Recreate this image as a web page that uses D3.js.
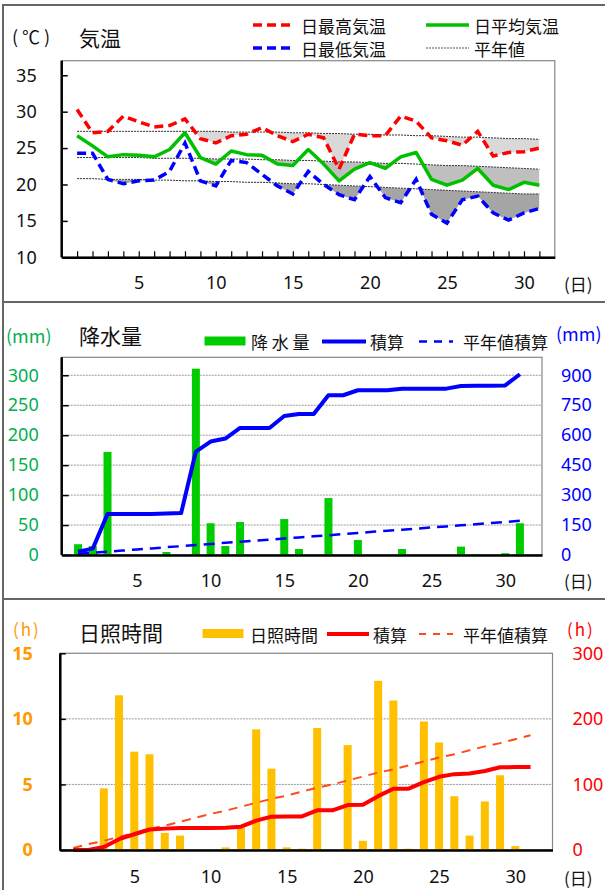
<!DOCTYPE html>
<html>
<head>
<meta charset="utf-8">
<script src="https://cdn.jsdelivr.net/npm/d3@7"></script>
<style>
  body { margin: 0; background: #fff; }
  svg { display: block; font-family: "Noto Sans", "Noto Sans CJK JP", sans-serif; }
  .jp { font-family: "Noto Sans CJK JP", sans-serif; }
</style>
</head>
<body>
<div id="chart"></div>
<script>
// Days of the month
const days = [1,2,3,4,5,6,7,8,9,10,11,12,13,14,15,16,17,18,19,20,21,22,23,24,25,26,27,28,29,30,31];
const dayLabels = [5,10,15,20,25,30];

// Temperature (°C)
const maxTemp  = [30.3,27.1,27.3,29.4,28.6,27.9,28.1,29.0,26.3,25.7,26.7,26.9,27.8,26.7,25.9,26.9,26.4,22.1,26.9,26.7,26.7,29.4,28.7,26.4,26.0,25.4,27.3,23.9,24.4,24.5,25.0];
const meanTemp = [26.7,25.3,23.8,24.1,24.0,23.8,24.8,27.1,23.7,22.8,24.6,24.1,24.0,22.8,22.6,24.8,22.8,20.5,22.1,23.0,22.2,23.8,24.4,20.7,19.9,20.6,22.2,19.9,19.3,20.3,19.9];
const minTemp  = [24.3,24.3,20.7,20.1,20.5,20.6,21.8,25.7,20.5,19.8,23.3,23.0,21.4,19.8,18.7,21.8,20.0,18.6,17.9,21.1,18.2,17.5,20.7,15.9,14.7,17.9,18.4,16.1,15.1,16.1,16.7];
const maxNorm  = [27.3,27.3,27.3,27.3,27.3,27.3,27.3,27.3,27.3,27.3,27.2,27.2,27.2,27.2,27.1,27.1,27.0,27.0,26.9,26.9,26.8,26.8,26.7,26.7,26.6,26.5,26.5,26.4,26.3,26.3,26.2];
const meanNorm = [23.7,23.7,23.7,23.7,23.7,23.6,23.6,23.6,23.6,23.5,23.5,23.5,23.4,23.4,23.3,23.3,23.2,23.1,23.1,23.0,22.9,22.9,22.8,22.7,22.6,22.6,22.5,22.4,22.3,22.2,22.1];
const minNorm  = [20.8,20.8,20.7,20.7,20.7,20.6,20.6,20.5,20.5,20.4,20.4,20.3,20.3,20.2,20.1,20.1,20.0,19.9,19.8,19.7,19.6,19.5,19.4,19.3,19.2,19.1,19.0,18.9,18.8,18.7,18.7];
const tempTicks = [10,15,20,25,30,35];

// Precipitation (mm)
const precip         = [18,15,172,0,0,0,5,0,311,53,15,55,0,0,60,10,0,95,0,25,0,0,10,0,0,0,14,1,0,3,53];
const precipCum      = [17,32,205,205,205,205,208,210,518,568,583,636,636,636,696,706,706,800,800,825,825,825,833,833,833,833,846,847,847,849,905];
const precipNormCum  = [6,11,17,22,28,33,39,44,50,55,61,66,72,77,83,88,94,99,105,110,116,121,127,132,138,143,149,154,160,165,171];
const precipTicks    = [0,50,100,150,200,250,300];
const precipCumTicks = [0,150,300,450,600,750,900];

// Sunshine duration (h)
const sun         = [0,0,4.7,11.8,7.5,7.3,1.3,1.1,0,0,0.2,1.7,9.2,6.2,0.2,0.1,9.3,0,8.0,0.7,12.9,11.4,0.1,9.8,8.2,4.1,1.1,3.7,5.7,0.3,0];
const sunCum      = [0,0,4.7,16.5,24.0,31.3,32.6,33.6,33.6,33.6,33.8,35.5,44.7,50.9,51.1,51.2,60.5,60.5,68.5,69.2,82.1,93.5,93.6,103.4,111.6,115.7,116.8,120.5,126.2,126.5,126.5];
const sunNormCum  = [3,9,14,20,26,32,37,43,49,55,60,66,72,78,83,89,95,100,106,112,118,123,129,135,141,146,152,158,163,169,175];
const sunTicks    = [0,5,10,15];
const sunCumTicks = [0,100,200,300];

const svg = d3.select("#chart").append("svg")
  .attr("width", 605)
  .attr("height", 890);

// Panel frames
[[5, 297], [302, 297], [599, 300]].forEach(([y, h]) => {
  svg.append("rect")
    .attr("x", 3).attr("y", y).attr("width", 640).attr("height", h)
    .attr("fill", "none").attr("stroke", "#666").attr("stroke-width", 2);
});

function label(x, y, txt, opts = {}) {
  return svg.append("text")
    .attr("class", opts.cls || "jp")
    .attr("x", x).attr("y", y)
    .attr("dominant-baseline", "central")
    .attr("text-anchor", opts.anchor || "start")
    .attr("font-size", opts.size || 17)
    .attr("letter-spacing", opts.spacing || null)
    .attr("fill", opts.color || "#111")
    .text(txt);
}

function legendLine(x0, x1, y, color, width, dash) {
  svg.append("line")
    .attr("x1", x0).attr("x2", x1).attr("y1", y).attr("y2", y)
    .attr("stroke", color).attr("stroke-width", width)
    .attr("stroke-dasharray", dash || null);
}

function styleAxis(g, color, size) {
  g.selectAll("text")
    .attr("font-size", size || 18)
    .attr("fill", color)
    .attr("font-family", "Noto Sans, sans-serif");
}

// ---------- Panel 1: temperature ----------
const x1 = d3.scaleLinear().domain([0, 32]).range([61.7, 554.8]);
const y1 = d3.scaleLinear().domain([10, 37]).range([257.3, 60.7]);

svg.append("rect")
  .attr("x", x1(0)).attr("y", y1(37))
  .attr("width", x1(32) - x1(0)).attr("height", y1(10) - y1(37))
  .attr("fill", "none").attr("stroke", "#888").attr("stroke-width", 1.2);

const defs = svg.append("defs");
const shades = [
  { obs: maxTemp,  norm: maxNorm,  fill: "#d9d9d9", id: "clipMax" },
  { obs: meanTemp, norm: meanNorm, fill: "#bfbfbf", id: "clipMean" },
  { obs: minTemp,  norm: minNorm,  fill: "#a5a5a5", id: "clipMin" }
];

shades.forEach(s => {
  // area below the normal line, keeps only the below-normal part
  const below = d3.area()
    .x((d, i) => x1(days[i]))
    .y0(y1(10))
    .y1(d => y1(d));
  defs.append("clipPath").attr("id", s.id)
    .append("path").attr("d", below(s.norm));

  const band = d3.area()
    .x((d, i) => x1(days[i]))
    .y0((d, i) => y1(s.norm[i]))
    .y1(d => y1(d));
  svg.append("path")
    .attr("d", band(s.obs))
    .attr("fill", s.fill)
    .attr("clip-path", `url(#${s.id})`);
});

const tLine = d3.line().x((d, i) => x1(days[i])).y(d => y1(d));

[maxNorm, meanNorm, minNorm].forEach(n => {
  svg.append("path").attr("d", tLine(n))
    .attr("fill", "none").attr("stroke", "#333")
    .attr("stroke-width", 1).attr("stroke-dasharray", "2,1");
});

svg.append("path").attr("d", tLine(meanTemp))
  .attr("fill", "none").attr("stroke", "#00c000").attr("stroke-width", 3.5)
  .attr("stroke-linejoin", "round");
svg.append("path").attr("d", tLine(maxTemp))
  .attr("fill", "none").attr("stroke", "#ff0000").attr("stroke-width", 3.5)
  .attr("stroke-dasharray", "9,5");
svg.append("path").attr("d", tLine(minTemp))
  .attr("fill", "none").attr("stroke", "#0000ff").attr("stroke-width", 3.5)
  .attr("stroke-dasharray", "9,5");

const ax1y = svg.append("g")
  .attr("transform", `translate(${x1(0)},0)`)
  .call(d3.axisLeft(y1).tickValues(tempTicks).tickSize(-6).tickSizeOuter(0).tickPadding(25));
ax1y.select(".domain").attr("stroke", "#000").attr("stroke-width", 2.5)
  .attr("d", `M0,${y1(10)}V${y1(37)}`);
ax1y.selectAll(".tick line").attr("stroke", "#000").attr("stroke-width", 1.5);
styleAxis(ax1y, "#111");

const ax1x = svg.append("g")
  .attr("transform", `translate(0,${y1(10)})`)
  .call(d3.axisBottom(x1).tickValues(days)
    .tickFormat(d => dayLabels.includes(d) ? d : "")
    .tickSize(-6).tickSizeOuter(0).tickPadding(19));
ax1x.select(".domain").attr("stroke", "#000").attr("stroke-width", 2.5);
ax1x.selectAll(".tick line").attr("stroke", "#000").attr("stroke-width", 1.2);
styleAxis(ax1x, "#111");

label(12, 36, "(℃)", { size: 18, spacing: 4 });
label(79, 37, "気温", { size: 21 });
label(564, 283, "(日)", { size: 17 });

legendLine(253, 295, 25, "#ff0000", 3.5, "9,5");
label(301, 25, "日最高気温");
legendLine(426, 469, 25, "#00c000", 3.5);
label(474, 25, "日平均気温");
legendLine(253, 295, 48, "#0000ff", 3.5, "9,5");
label(301, 48, "日最低気温");
legendLine(426, 469, 48, "#555", 1, "2,1");
label(474, 48, "平年値");

// ---------- Panel 2: precipitation ----------
const x2 = d3.scaleLinear().domain([-0.11, 32.5]).range([61.7, 542]);
const y2 = d3.scaleLinear().domain([0, 330]).range([555, 357.3]);
const y2r = d3.scaleLinear().domain([0, 990]).range([555, 357.3]);

svg.append("rect")
  .attr("x", x2.range()[0]).attr("y", y2(330))
  .attr("width", x2.range()[1] - x2.range()[0]).attr("height", y2(0) - y2(330))
  .attr("fill", "none").attr("stroke", "#888").attr("stroke-width", 1.2);

svg.append("g").selectAll("line")
  .data(precipTicks.filter(d => d > 0))
  .join("line")
  .attr("x1", x2.range()[0]).attr("x2", x2.range()[1])
  .attr("y1", d => y2(d)).attr("y2", d => y2(d))
  .attr("stroke", "#999").attr("stroke-width", 1).attr("stroke-dasharray", "2,1");

svg.append("g").selectAll("rect")
  .data(precip)
  .join("rect")
  .attr("x", (d, i) => x2(days[i]) - 4)
  .attr("width", 8)
  .attr("y", d => y2(d))
  .attr("height", d => y2(0) - y2(d))
  .attr("fill", "#00cc00");

const pLine = d3.line().x((d, i) => x2(days[i])).y(d => y2r(d));
svg.append("path").attr("d", pLine(precipNormCum))
  .attr("fill", "none").attr("stroke", "#0000ff").attr("stroke-width", 2.5)
  .attr("stroke-dasharray", "11,7");
svg.append("path").attr("d", pLine(precipCum))
  .attr("fill", "none").attr("stroke", "#0000ff").attr("stroke-width", 4)
  .attr("stroke-linejoin", "round");

const ax2y = svg.append("g")
  .attr("transform", `translate(${x2.range()[0]},0)`)
  .call(d3.axisLeft(y2).tickValues(precipTicks).tickSize(-7).tickSizeOuter(0).tickPadding(23));
ax2y.select(".domain").attr("stroke", "#000").attr("stroke-width", 2.5)
  .attr("d", `M0,${y2(0)}V${y2(330)}`);
ax2y.selectAll(".tick line").attr("stroke", "#000").attr("stroke-width", 1.5);
styleAxis(ax2y, "#00b050");

const ax2r = svg.append("g")
  .attr("transform", `translate(${x2.range()[1]},0)`)
  .call(d3.axisRight(y2r).tickValues(precipCumTicks).tickSize(0).tickPadding(19));
ax2r.select(".domain").remove();
styleAxis(ax2r, "#0000ff");

const ax2x = svg.append("g")
  .attr("transform", `translate(0,${y2(0)})`)
  .call(d3.axisBottom(x2).tickValues(dayLabels).tickSize(0).tickPadding(19));
ax2x.select(".domain").attr("stroke", "#000").attr("stroke-width", 2.5);
styleAxis(ax2x, "#111");

label(6, 335, "(mm)", { size: 18, color: "#00b050", cls: "" });
label(79, 335, "降水量", { size: 21 });
label(556, 333, "(mm)", { size: 18, color: "#0000ff", cls: "" });
label(564, 580, "(日)", { size: 17 });

svg.append("rect").attr("x", 204.5).attr("y", 336.5).attr("width", 41).attr("height", 9).attr("fill", "#00cc00");
label(251, 341, "降 水 量");
legendLine(322, 366, 341.5, "#0000ff", 4);
label(370, 341, "積算");
legendLine(419, 453, 341.5, "#0000ff", 2.5, "8,7");
label(463, 341, "平年値積算");

// ---------- Panel 3: sunshine ----------
const x3 = d3.scaleLinear().domain([0.114, 32.44]).range([59.8, 552.5]);
const y3 = d3.scaleLinear().domain([0, 15]).range([850, 653.3]);
const y3r = d3.scaleLinear().domain([0, 300]).range([850, 653.3]);

svg.append("rect")
  .attr("x", x3.range()[0]).attr("y", y3(15))
  .attr("width", x3.range()[1] - x3.range()[0]).attr("height", y3(0) - y3(15))
  .attr("fill", "none").attr("stroke", "#888").attr("stroke-width", 1.2);

svg.append("g").selectAll("line")
  .data(sunTicks.filter(d => d > 0))
  .join("line")
  .attr("x1", x3.range()[0]).attr("x2", x3.range()[1])
  .attr("y1", d => y3(d)).attr("y2", d => y3(d))
  .attr("stroke", "#999").attr("stroke-width", 1).attr("stroke-dasharray", "2,1");

svg.append("g").selectAll("rect")
  .data(sun)
  .join("rect")
  .attr("x", (d, i) => x3(days[i]) - 4)
  .attr("width", 8)
  .attr("y", d => y3(d))
  .attr("height", d => y3(0) - y3(d))
  .attr("fill", "#ffc000");

const sLine = d3.line().x((d, i) => x3(days[i])).y(d => y3r(d));
svg.append("path").attr("d", sLine(sunNormCum))
  .attr("fill", "none").attr("stroke", "#ff4a1c").attr("stroke-width", 2)
  .attr("stroke-dasharray", "9,7");
svg.append("path").attr("d", sLine(sunCum))
  .attr("fill", "none").attr("stroke", "#ff0000").attr("stroke-width", 4)
  .attr("stroke-linejoin", "round");

const ax3y = svg.append("g")
  .attr("transform", `translate(${x3.range()[0]},0)`)
  .call(d3.axisLeft(y3).tickValues(sunTicks).tickSize(-6).tickSizeOuter(0).tickPadding(27));
ax3y.select(".domain").attr("stroke", "#000").attr("stroke-width", 2.5);
ax3y.selectAll(".tick line").attr("stroke", "#000").attr("stroke-width", 1.5);
styleAxis(ax3y, "#ff9900");
ax3y.selectAll("text").attr("font-weight", "bold");

const ax3r = svg.append("g")
  .attr("transform", `translate(${x3.range()[1]},0)`)
  .call(d3.axisRight(y3r).tickValues(sunCumTicks).tickSize(0).tickPadding(20));
ax3r.select(".domain").remove();
styleAxis(ax3r, "#ff0000");

const ax3x = svg.append("g")
  .attr("transform", `translate(0,${y3(0)})`)
  .call(d3.axisBottom(x3).tickValues(dayLabels).tickSize(0).tickPadding(20));
ax3x.select(".domain").attr("stroke", "#000").attr("stroke-width", 2.5);
styleAxis(ax3x, "#111");

label(13, 628, "(h)", { size: 17, color: "#ff9900", cls: "", spacing: 2 });
label(79, 632, "日照時間", { size: 21 });
label(567, 628, "(h)", { size: 17, color: "#ff0000", cls: "", spacing: 2 });
label(564, 877, "(日)", { size: 17 });

svg.append("rect").attr("x", 202.5).attr("y", 629).attr("width", 41).attr("height", 9).attr("fill", "#ffc000");
label(250, 634, "日照時間");
legendLine(327, 369, 634, "#ff0000", 4);
label(373, 634, "積算");
legendLine(419, 453, 634, "#ff4a1c", 2, "7,7");
label(463, 634, "平年値積算");
</script>
</body>
</html>
